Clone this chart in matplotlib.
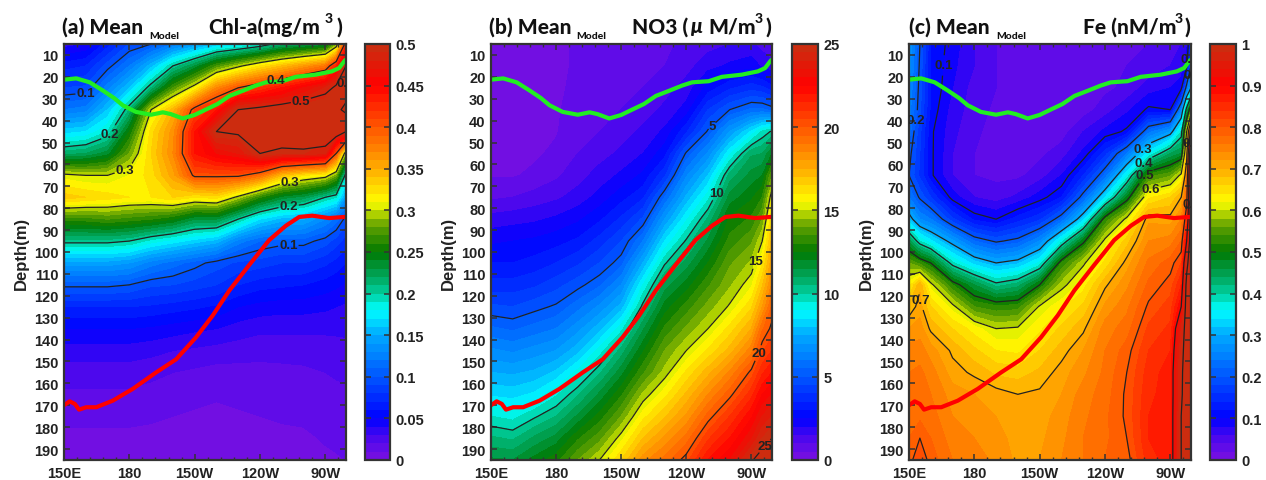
import numpy as np
import matplotlib
matplotlib.use("Agg")
import matplotlib.pyplot as plt
from matplotlib.colors import LinearSegmentedColormap
from matplotlib.ticker import AutoMinorLocator

W, H = 1266, 481
plt.rcParams['font.family'] = ['Liberation Sans', 'DejaVu Sans']
plt.rcParams['font.weight'] = 'bold'

depths = [5, 15, 25, 35, 45, 55, 65, 75, 85, 95, 105, 115, 125, 135, 145, 155, 165, 175, 185, 195]
xtick_lons = [150, 180, 210, 240, 270]
xtick_labels = ['150E', '180', '150W', '120W', '90W']
ytick_depths = list(range(10, 200, 10))

lon_ab = [150, 160, 170, 180, 190, 200, 210, 220, 230, 240, 250, 260, 270, 275, 279.5]
lon_c = [150, 155, 160, 170, 180, 190, 200, 210, 220, 230, 240, 250, 260, 270, 275, 277.5, 279.5]

# each row: one longitude, values by depth
chl = [
 [.035,.065,.09,.12,.165,.215,.305,.335,.265,.205,.145,.103,.07,.05,.035,.025,.018,.012,.008,.005],
 [.04,.07,.092,.125,.17,.22,.30,.33,.265,.205,.145,.103,.07,.05,.035,.025,.018,.012,.008,.006],
 [.065,.095,.125,.16,.19,.235,.30,.325,.27,.205,.145,.103,.07,.05,.035,.025,.018,.012,.008,.006],
 [.09,.12,.16,.21,.25,.28,.31,.32,.265,.20,.14,.10,.07,.05,.035,.025,.018,.012,.008,.006],
 [.10,.155,.21,.30,.325,.33,.325,.32,.26,.185,.125,.092,.068,.048,.033,.023,.016,.011,.008,.006],
 [.12,.20,.27,.345,.365,.37,.355,.33,.25,.175,.115,.09,.065,.045,.03,.02,.014,.01,.007,.005],
 [.14,.23,.31,.41,.44,.44,.405,.32,.23,.165,.105,.085,.062,.042,.028,.018,.012,.009,.006,.005],
 [.16,.27,.37,.44,.50,.46,.405,.325,.23,.155,.095,.08,.058,.04,.026,.016,.011,.008,.006,.005],
 [.17,.295,.40,.50,.505,.47,.405,.295,.20,.125,.088,.07,.05,.035,.025,.016,.012,.009,.007,.006],
 [.185,.32,.42,.51,.52,.50,.385,.26,.17,.11,.085,.064,.046,.032,.024,.016,.013,.01,.008,.006],
 [.21,.34,.44,.52,.53,.49,.34,.235,.155,.105,.08,.062,.044,.032,.024,.017,.014,.011,.008,.006],
 [.22,.36,.46,.53,.54,.49,.32,.225,.15,.105,.08,.06,.044,.032,.024,.018,.016,.012,.008,.006],
 [.23,.38,.48,.55,.54,.48,.31,.2,.13,.095,.072,.055,.042,.032,.025,.02,.017,.014,.011,.008],
 [.28,.43,.51,.58,.53,.40,.28,.19,.115,.085,.066,.052,.04,.032,.026,.021,.018,.015,.012,.009],
 [.42,.5,.56,.62,.5,.28,.19,.14,.095,.075,.06,.048,.038,.032,.027,.022,.018,.015,.012,.01],
]

no3 = [
 [.4,.4,.4,.4,.4,.4,.45,.9,1.7,2.4,3.0,3.7,4.6,5.6,6.6,7.5,8.4,9.5,10.6,11.6],
 [.4,.4,.4,.4,.4,.4,.45,1.0,1.8,2.5,3.0,3.7,4.5,5.4,6.4,7.4,8.3,9.3,10.4,11.5],
 [.4,.4,.4,.4,.4,.42,.6,1.2,1.9,2.6,3.2,3.9,4.8,5.7,6.7,7.6,8.6,9.9,11.1,12.2],
 [.42,.42,.42,.44,.46,.6,.9,1.4,2.1,2.8,3.5,4.3,5.1,6.0,7.0,8.1,9.4,10.5,11.7,12.8],
 [.55,.55,.6,.7,.85,1.0,1.3,1.7,2.4,3.1,3.9,4.8,5.8,6.8,7.8,9.2,10.4,11.6,12.9,14],
 [.6,.65,.7,.8,1.0,1.3,1.7,2.2,2.9,3.7,4.5,5.4,6.6,7.8,9.2,10.4,11.6,12.7,13.8,15],
 [.7,.75,.9,1.0,1.3,1.6,2.1,2.8,3.6,4.5,5.3,6.5,7.7,9.3,10.7,11.8,12.9,14,15.3,16.5],
 [.8,.85,1.0,1.3,1.6,2.0,2.6,3.4,4.6,6.0,7.5,9.0,10.2,11.4,12.4,13.4,14.6,15.8,17,18.3],
 [.9,1.0,1.3,1.6,2.1,2.8,3.9,5.5,7.0,8.5,9.9,11.2,12.2,13.1,14,14.7,15.8,16.9,18.1,19.2],
 [1.1,1.3,1.7,2.2,3.4,5.1,6.4,7.6,8.9,10.1,11.2,12.2,13.2,14.1,15,16.1,17.1,18.1,19.2,20.3],
 [1.3,1.8,2.7,4.0,5.1,6.6,8,9.3,10.6,11.6,12.5,13.4,14.2,15,16.1,17.3,18.5,19.7,20.9,22],
 [1.5,2.1,3.4,5,7,8.9,10.7,11.7,12.6,13.2,13.9,14.4,15.1,16.2,17.2,18.6,19.8,21,22,23],
 [1.6,2.3,3.8,5.6,8.6,10.9,11.7,12.4,13.1,13.9,14.6,15.4,16.4,17.5,18.8,20.2,21.3,22.4,23.4,24.9],
 [1.3,1.9,3.6,5.6,9.6,11,12,13,14,15,15.9,16.9,18,19.4,20.4,21.4,22.5,23.5,24.5,25.5],
 [1.2,1.6,3.2,5.3,10.1,12,14,15.5,16.5,17.2,17.9,18.6,19.6,20.2,21,22,23,24,25,26],
]

fe = [
 [.28,.27,.26,.25,.23,.21,.20,.24,.32,.45,.56,.63,.685,.72,.75,.76,.77,.77,.78,.79],
 [.2,.195,.19,.185,.165,.16,.155,.195,.26,.38,.53,.695,.71,.73,.75,.765,.77,.775,.80,.82],
 [.12,.12,.12,.115,.105,.105,.105,.16,.24,.345,.50,.61,.66,.695,.73,.75,.76,.77,.78,.79],
 [.09,.085,.08,.07,.065,.06,.06,.09,.165,.285,.385,.52,.61,.66,.695,.71,.73,.74,.75,.76],
 [.06,.06,.05,.05,.045,.04,.04,.06,.115,.22,.33,.46,.54,.63,.665,.695,.72,.73,.74,.75],
 [.04,.04,.04,.035,.03,.03,.035,.05,.1,.195,.30,.41,.525,.60,.64,.675,.71,.72,.73,.735],
 [.035,.035,.03,.03,.03,.03,.035,.065,.13,.21,.315,.43,.53,.605,.635,.67,.70,.705,.71,.715],
 [.035,.03,.03,.03,.03,.035,.05,.09,.155,.26,.365,.50,.605,.635,.66,.685,.705,.71,.715,.72],
 [.035,.03,.03,.03,.03,.05,.08,.12,.22,.37,.52,.59,.635,.665,.69,.71,.72,.73,.735,.74],
 [.035,.03,.03,.03,.06,.085,.14,.215,.33,.49,.595,.63,.665,.695,.72,.735,.75,.755,.76,.76],
 [.04,.035,.035,.05,.085,.15,.225,.34,.52,.61,.645,.695,.725,.75,.76,.765,.77,.775,.775,.78],
 [.04,.04,.045,.075,.105,.24,.36,.48,.61,.67,.71,.735,.755,.77,.79,.80,.805,.805,.80,.79],
 [.04,.045,.07,.105,.23,.355,.53,.635,.715,.74,.765,.785,.805,.825,.84,.85,.855,.86,.86,.85],
 [.05,.06,.08,.10,.28,.44,.555,.66,.71,.75,.79,.81,.83,.845,.86,.87,.87,.87,.87,.87],
 [.06,.07,.09,.25,.38,.46,.61,.70,.74,.78,.82,.86,.90,.96,.98,.99,.99,1.0,1.0,1.0],
 [.07,.09,.22,.42,.6,.68,.74,.78,.83,.9,.98,1.02,1.03,1.03,1.03,1.03,1.04,1.04,1.05,1.05],
 [.15,.2,.3,.55,.85,1.0,1.05,1.05,1.05,1.05,1.05,1.05,1.05,1.05,1.05,1.05,1.05,1.05,1.05,1.05],
]

green_lon = [150,155.6,161.8,167.9,173,177,183,190,195.4,199,204.5,210,215,220.5,226,232,238,242.7,250.3,256.4,265.6,273,276.3,278.6,279.5]
green_depth = [21.3,20.7,22.5,26.3,29.7,33,36,37.3,36.2,37,39,37.4,35,32.4,28.7,26.4,24,22.5,22,20,19,17.5,16,13,12]
red_lon = [150,152.6,155,156.9,160.2,164.8,172.4,181.6,192.3,201.5,210.6,218.3,225.9,235,244.2,251.9,258,264,271.7,278.6,279.5]
red_depth = [170,168.2,169.4,172,170.9,170.9,167.9,162.5,155,149,139,129,117.6,106,94.6,88,84,83.4,84.5,84,84]

chl_levels = [.1, .2, .3, .4, .5, .6]
no3_levels = [5, 10, 15, 20, 25]
fe_levels = [.1, .2, .3, .4, .5, .6, .7, .8, .9, 1.0]

chl_ticks = [0, .05, .1, .15, .2, .25, .3, .35, .4, .45, .5]
chl_ticklabels = ['0', '0.05', '0.1', '0.15', '0.2', '0.25', '0.3', '0.35', '0.4', '0.45', '0.5']
no3_ticks = [0, 5, 10, 15, 20, 25]
no3_ticklabels = ['0', '5', '10', '15', '20', '25']
fe_ticks = [0, .1, .2, .3, .4, .5, .6, .7, .8, .9, 1]
fe_ticklabels = ['0', '0.1', '0.2', '0.3', '0.4', '0.5', '0.6', '0.7', '0.8', '0.9', '1']

cmap = LinearSegmentedColormap.from_list('mod', [
    (0.00, '#7a10e0'), (0.05, '#4a08ee'), (0.10, '#0000ff'), (0.20, '#0058ff'), (0.30, '#00a8ff'),
    (0.36, '#00ffff'), (0.40, '#00cc99'), (0.45, '#00a050'), (0.50, '#007800'), (0.56, '#60a000'),
    (0.60, '#c0dc00'), (0.62, '#ffff00'), (0.70, '#ffac00'), (0.80, '#ff5800'), (0.90, '#ff0000'),
    (1.00, '#c83010')], N=256)

fig = plt.figure(figsize=(W / 100, H / 100), dpi=100)
EDGE = '#333333'

def ax_px(l, r, t=45, b=461):
    return fig.add_axes([l / W, 1 - b / H, (r - l) / W, (b - t) / H])

def txt(x, y, s, size, family='Lato', **kw):
    fig.text(x / W, 1 - y / H, s, fontsize=size, family=family, fontweight=900,
             color='#111111', va='center', ha='left', **kw)

def panel(l, r, cl, cr, lons, z, vmax, levels, ticks, ticklabels, manual, fmt):
    ax = ax_px(l, r)
    z = np.array(z, dtype=float).T
    cf = ax.contourf(lons, depths, np.clip(z, 0, vmax), levels=np.linspace(0, vmax, 51), cmap=cmap, vmin=0, vmax=vmax)
    cs = ax.contour(lons, depths, z, levels=levels, colors='#222222', linewidths=0.9)
    ax.clabel(cs, manual=manual, fmt=fmt, inline=True, inline_spacing=1, fontsize=9.5)
    for t in cs.labelTexts:
        t.set_rotation(0)
        t.set_fontweight('bold')
        t.set_color('#222222')
    ax.plot(green_lon, green_depth, color='#22ee22', lw=3, solid_capstyle='butt')
    ax.plot(red_lon, red_depth, color='#ff0000', lw=3, solid_capstyle='butt')
    ax.set_xlim(150, 279.5)
    ax.set_ylim(195, 5)
    ax.set_xticks(xtick_lons)
    ax.set_xticklabels(xtick_labels)
    ax.xaxis.set_minor_locator(AutoMinorLocator(5))
    ax.set_yticks(ytick_depths)
    ax.tick_params(axis='both', which='major', direction='in', top=True, right=True, length=4, width=1.1,
                   color=EDGE, labelsize=10.5, labelcolor='#222222', pad=4)
    ax.tick_params(axis='x', which='minor', direction='in', top=True, length=2, width=1, color=EDGE)
    ax.set_ylabel('Depth(m)', fontsize=12, fontweight='bold', color='#222222', labelpad=4)
    for s in ax.spines.values():
        s.set_linewidth(1.6)
        s.set_color(EDGE)
    cax = ax_px(cl, cr)
    cb = fig.colorbar(cf, cax=cax, ticks=ticks, drawedges=False)
    cb.ax.set_yticklabels(ticklabels)
    cb.ax.tick_params(direction='in', left=True, right=True, length=4, width=1.1, color=EDGE,
                      labelsize=10.5, labelcolor='#222222', pad=4)
    cb.ax.minorticks_off()
    cb.outline.set_linewidth(1.6)
    cb.outline.set_edgecolor(EDGE)
    return ax

ax_a = panel(64, 346, 365, 390, lon_ab, chl, .5, chl_levels, chl_ticks, chl_ticklabels,
             [(160, 28), (171, 46), (178, 63), (253.6, 67.5), (253, 77.6), (253, 96), (247.5, 23), (258, 26.5)], '%g')
ax_b = panel(491, 772, 792, 818, lon_ab, no3, 25, no3_levels, no3_ticks, no3_ticklabels,
             [(252.5, 43), (254, 73), (272, 104), (274, 146.5), (276.5, 189)], '%g')
ax_c = panel(909, 1191, 1210, 1236, lon_c, fe, 1, fe_levels, fe_ticks, fe_ticklabels,
             [(168, 15), (154, 40), (258.5, 54), (258.5, 60), (259.5, 66), (261.5, 73.5), (155, 122)], '%g')

# clipped labels at the right edge
for ax, lon, dep, s in [(ax_a, 275.3, 23, '0.6'), (ax_c, 274.5, 12, '0.7'), (ax_c, 276, 19, '0.'),
                        (ax_c, 275.5, 50, '0.'), (ax_c, 275.5, 78, '0.8')]:
    ax.text(lon, dep, s, fontsize=9.5, fontweight='bold', color='#222222', ha='left', va='center', clip_on=True)

# titles
TS = 15
txt(62, 27, '(a) Mean', TS)
txt(149, 37, 'Model', 7.5)
txt(208, 27, 'Chl-a(mg/m', TS)
txt(325, 19, '3', 10)
txt(336, 27, ')', TS)

txt(489, 27, '(b) Mean', TS)
txt(576, 37, 'Model', 7.5)
txt(632, 27, 'NO3 (', TS)
txt(690, 27, 'μ', TS, style='italic')
txt(708, 27, 'M/m', TS)
txt(755, 19, '3', 10)
txt(765, 27, ')', TS)

txt(909, 27, '(c) Mean', TS)
txt(996, 37, 'Model', 7.5)
txt(1083, 27, 'Fe (nM/m', TS)
txt(1175, 19, '3', 10)
txt(1184, 27, ')', TS)

fig.savefig('out.png', dpi=100)
